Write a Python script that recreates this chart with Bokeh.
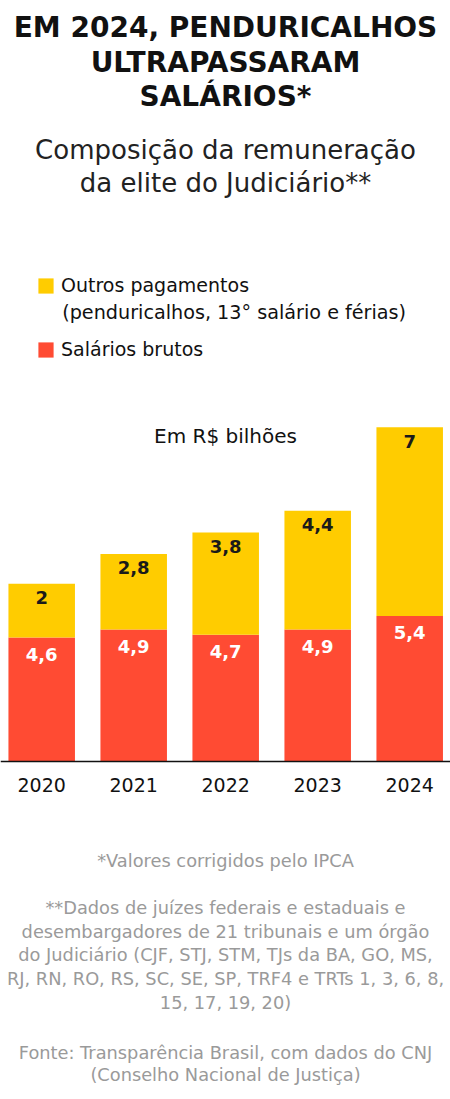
from bokeh.plotting import figure
from bokeh.models import ColumnDataSource, Range1d, Label, Span, Legend, LegendItem
from bokeh.embed import file_html
from bokeh.resources import INLINE
from bokeh.core.properties import value

# ---------------- data ----------------
years = ["2020", "2021", "2022", "2023", "2024"]
salarios = [4.6, 4.9, 4.7, 4.9, 5.4]
outros = [2.0, 2.8, 3.8, 4.4, 7.0]
salarios_lbl = ["4,6", "4,9", "4,7", "4,9", "5,4"]
outros_lbl = ["2", "2,8", "3,8", "4,4", "7"]

title_lines = ["EM 2024, PENDURICALHOS", "ULTRAPASSARAM", "SALÁRIOS*"]
subtitle_lines = ["Composição da remuneração", "da elite do Judiciário**"]
legend_outros = ["Outros pagamentos", "(penduricalhos, 13° salário e férias)"]
legend_sal = "Salários brutos"
unit_label = "Em R$ bilhões"
note_1 = "*Valores corrigidos pelo IPCA"
note_2 = ["**Dados de juízes federais e estaduais e",
          "desembargadores de 21 tribunais e um órgão",
          "do Judiciário (CJF, STJ, STM, TJs da BA, GO, MS,",
          "RJ, RN, RO, RS, SC, SE, SP, TRF4 e TRTs 1, 3, 6, 8,",
          "15, 17, 19, 20)"]
source_lines = ["Fonte: Transparência Brasil, com dados do CNJ",
                "(Conselho Nacional de Justiça)"]

# ---------------- style ----------------
FONT = "DejaVu Sans"
RED = "#FF4B33"
YEL = "#FFCC00"
DARK = "#111111"
GRAY = "#9a9a9a"

W, H = 450, 1099
PX = 26.95      # px per R$ bi
BASE = 338      # baseline, px from bottom of canvas
STEP = 92       # px between bar centres
X0 = 41.2       # px of first bar centre

idx = list(range(len(years)))
totals = [a + b for a, b in zip(salarios, outros)]

src = ColumnDataSource(dict(x=idx, year=years, sal=salarios, out=outros, tot=totals,
                            sl=salarios_lbl, ol=outros_lbl))

p = figure(width=W, height=H, output_backend="svg", toolbar_location=None,
           x_axis_location=None, y_axis_location=None, title=None,
           x_range=Range1d(-X0 / STEP, (W - X0) / STEP),
           y_range=Range1d(-BASE / PX, (H - BASE) / PX),
           min_border=0, outline_line_color=None, background_fill_color="white")
p.grid.visible = False

r_sal = p.vbar(x="x", width=0.723, bottom=0, top="sal", source=src,
               fill_color=RED, line_color=None)
r_out = p.vbar(x="x", width=0.723, bottom="sal", top="tot", source=src,
               fill_color=YEL, line_color=None)

p.text(x="x", y="sal", text="sl", source=src, text_align="center", text_baseline="middle",
       y_offset=17, text_font=value(FONT), text_font_style="bold", text_font_size="18px",
       text_color="white")
p.text(x="x", y="tot", text="ol", source=src, text_align="center", text_baseline="middle",
       y_offset=14, text_font=value(FONT), text_font_style="bold", text_font_size="18px",
       text_color="#1a1a1a")
p.text(x="x", y=0, text="year", source=src, text_align="center", text_baseline="middle",
       y_offset=23.5, text_font=value(FONT), text_font_size="19px", text_color=DARK)

p.add_layout(Span(location=0, dimension="width", line_color="#111111", line_width=1.3))


def lab(text, x, y_top, size, color, style="normal", align="center"):
    # y_top: vertical centre measured from the top of the canvas
    p.add_layout(Label(x=x, y=H - y_top, x_units="screen", y_units="screen", text=text,
                       text_font=FONT, text_font_size=size, text_font_style=style,
                       text_color=color, text_align=align, text_baseline="middle"))


CX = 225
for t, y in zip(title_lines, [27.2, 62, 96.2]):
    lab(t, CX, y, "28px", DARK, "bold")
for t, y in zip(subtitle_lines, [149.7, 182.3]):
    lab(t, CX, y, "26px", "#222222")

legend = Legend(items=[LegendItem(label=legend_outros[0], renderers=[r_out]),
                       LegendItem(label=legend_sal, renderers=[r_sal])],
                location=(36, 739), orientation="vertical",
                glyph_width=19, glyph_height=19, label_height=19, label_width=10,
                spacing=42, padding=0, margin=0, label_standoff=6,
                border_line_color=None, background_fill_alpha=0,
                label_text_font=FONT, label_text_font_size="19px",
                label_text_color=DARK)
p.add_layout(legend)
lab(legend_outros[1], 61.7, 311.5, "19.2px", DARK, align="left")

lab(unit_label, CX, 435, "20px", DARK)

NOTE = "17.8px"
lab(note_1, CX, 859.7, NOTE, GRAY)
for t, y in zip(note_2, [907, 930.7, 954.4, 978, 1001.7]):
    lab(t, CX, y, NOTE, GRAY)
for t, y in zip(source_lines, [1052, 1074.4]):
    lab(t, CX, y, NOTE, GRAY)

open("out.html", "w").write(file_html(p, INLINE))
